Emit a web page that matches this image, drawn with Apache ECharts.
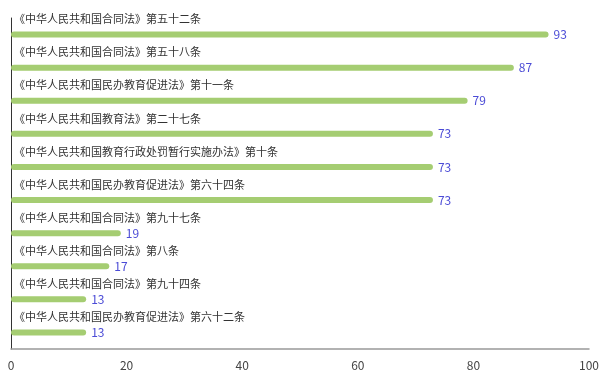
<!DOCTYPE html>
<html>
<head>
<meta charset="utf-8">
<script src="https://cdn.jsdelivr.net/npm/echarts@6/dist/echarts.min.js"></script>
<style>html,body{margin:0;padding:0;background:#fff}#c{width:606px;height:379px}</style>
</head>
<body>
<div id="c"></div>
<script>
const categories = [
  "《中华人民共和国合同法》第五十二条",
  "《中华人民共和国合同法》第五十八条",
  "《中华人民共和国民办教育促进法》第十一条",
  "《中华人民共和国教育法》第二十七条",
  "《中华人民共和国教育行政处罚暂行实施办法》第十条",
  "《中华人民共和国民办教育促进法》第六十四条",
  "《中华人民共和国合同法》第九十七条",
  "《中华人民共和国合同法》第八条",
  "《中华人民共和国合同法》第九十四条",
  "《中华人民共和国民办教育促进法》第六十二条"
];
const values = [93, 87, 79, 73, 73, 73, 19, 17, 13, 13];
const xTicks = [0, 20, 40, 60, 80, 100];

const chart = echarts.init(document.getElementById('c'));
const font = '"Noto Sans CJK SC", "Noto Sans", sans-serif';
chart.setOption({
  animation: false,
  textStyle: { fontFamily: font },
  grid: { left: 11, right: 17, top: 18, bottom: 30, containLabel: false },
  xAxis: {
    type: 'value', min: xTicks[0], max: xTicks[xTicks.length - 1], interval: 20,
    splitLine: { show: false },
    axisTick: { show: false },
    axisLine: { show: true, lineStyle: { color: '#999', width: 1.5 } },
    axisLabel: { color: '#444', fontSize: 12, margin: 10, fontFamily: font }
  },
  yAxis: {
    type: 'category', data: categories, inverse: true,
    axisTick: { show: false },
    axisLine: { show: true, lineStyle: { color: '#333' } },
    axisLabel: {
      inside: true, align: 'left', verticalAlign: 'bottom',
      padding: [0, 0, 10, 0], margin: 3,
      color: '#333', fontSize: 11, fontFamily: font
    }
  },
  series: [{
    type: 'bar', data: values, barWidth: 6,
    itemStyle: { color: '#a5cd72', borderRadius: 3 },
    label: { show: true, position: 'right', distance: 5, color: '#4b4bd6', fontSize: 12, fontFamily: font }
  }]
});
</script>
</body>
</html>
